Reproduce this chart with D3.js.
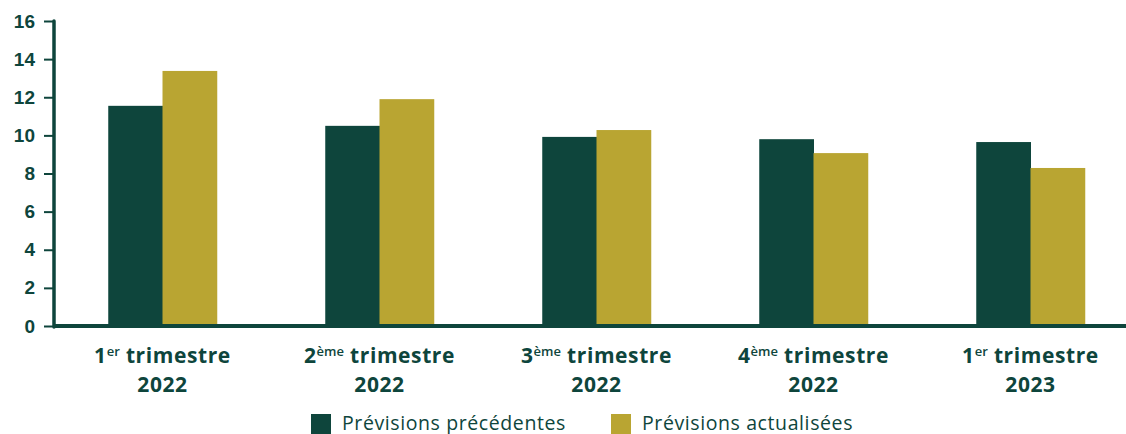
<!DOCTYPE html>
<html>
<head>
<meta charset="utf-8">
<script src="https://cdn.jsdelivr.net/npm/d3@7"></script>
<style>
  body { margin: 0; background: #fff; }
  svg { display: block; font-family: "Open Sans", "Noto Sans", sans-serif; }
  .tick-label { font-weight: 700; font-size: 19px; fill: #0e453c; }
  .cat-label { font-weight: 700; font-size: 21px; fill: #0e453c; letter-spacing: 0.6px; }
  .legend-label { font-size: 19.5px; fill: #0e453c; letter-spacing: 0.6px; }
</style>
</head>
<body>
<svg id="chart"></svg>
<script>
// categories: [ordinal number, superscript, year]
const quarters = [
    ["1", "er", "2022"],
    ["2", "ème", "2022"],
    ["3", "ème", "2022"],
    ["4", "ème", "2022"],
    ["1", "er", "2023"]
];
const seriesNames = ["Prévisions précédentes", "Prévisions actualisées"];
const previous = [11.55, 10.5, 9.92, 9.8, 9.65];
const updated = [13.38, 11.9, 10.28, 9.07, 8.29];
const yTicks = [0, 2, 4, 6, 8, 10, 12, 14, 16];
const colors = ["#0e453c", "#b9a532"];

const width = 1126, height = 434;
const svg = d3.select("#chart").attr("width", width).attr("height", height);

const x0 = d3.scaleBand()
    .domain(d3.range(quarters.length))
    .range([54, 1139])
    .paddingInner(0.5)
    .paddingOuter(0.25);

const x1 = d3.scaleBand()
    .domain([0, 1])
    .range([0, x0.bandwidth()]);

const y = d3.scaleLinear()
    .domain([0, 16])
    .range([326, 21]);

// bars
const groups = svg.append("g")
    .selectAll("g")
    .data(quarters.map((q, i) => [previous[i], updated[i]]))
    .join("g")
    .attr("transform", (d, i) => `translate(${x0(i)},0)`);

groups.selectAll("rect")
    .data(d => d)
    .join("rect")
    .attr("x", (d, j) => x1(j))
    .attr("width", x1.bandwidth() + 0.5)
    .attr("y", d => y(d))
    .attr("height", d => y(0) - y(d))
    .attr("fill", (d, j) => colors[j]);

// y axis
const yAxis = d3.axisLeft(y).tickValues(yTicks).tickSize(10).tickPadding(6);
const yAxisG = svg.append("g")
    .attr("transform", "translate(54,0)")
    .call(yAxis);
yAxisG.select(".domain").remove();
yAxisG.selectAll(".tick line").attr("stroke", "#0e453c").attr("stroke-width", 2);
yAxisG.selectAll(".tick text")
    .attr("class", "tick-label")
    .attr("font-family", null)
    .attr("font-size", null)
    .attr("fill", null)
    .attr("x", -19);

svg.append("line")
    .attr("x1", 54).attr("x2", 54)
    .attr("y1", 21).attr("y2", 327)
    .attr("stroke", "#0e453c")
    .attr("stroke-width", 3.5)
    .attr("stroke-linecap", "round");

// x axis line
svg.append("line")
    .attr("x1", 53).attr("x2", width)
    .attr("y1", y(0)).attr("y2", y(0))
    .attr("stroke", "#0e453c")
    .attr("stroke-width", 4);

// category labels
const cats = svg.append("g")
    .selectAll("text")
    .data(quarters)
    .join("text")
    .attr("class", "cat-label")
    .attr("text-anchor", "middle")
    .attr("x", (d, i) => x0(i) + x0.bandwidth() / 2);

cats.append("tspan")
    .attr("y", 363)
    .text(d => d[0]);
cats.append("tspan")
    .attr("dy", -7)
    .attr("font-size", "13px")
    .attr("font-weight", 600)
    .attr("letter-spacing", "0px")
    .text(d => d[1]);
cats.append("tspan")
    .attr("dy", 7)
    .text(d => " trimestre");
svg.append("g")
    .selectAll("text")
    .data(quarters)
    .join("text")
    .attr("class", "cat-label")
    .attr("text-anchor", "middle")
    .attr("x", (d, i) => x0(i) + x0.bandwidth() / 2)
    .attr("y", 392)
    .text(d => d[2]);

// legend
const legendX = [311, 611];
const legend = svg.append("g")
    .selectAll("g")
    .data(seriesNames)
    .join("g")
    .attr("transform", (d, i) => `translate(${legendX[i]},414)`);

legend.append("rect")
    .attr("width", 20).attr("height", 20)
    .attr("fill", (d, i) => colors[i]);

legend.append("text")
    .attr("class", "legend-label")
    .attr("x", 31)
    .attr("y", 16)
    .text(d => d);
</script>
</body>
</html>
